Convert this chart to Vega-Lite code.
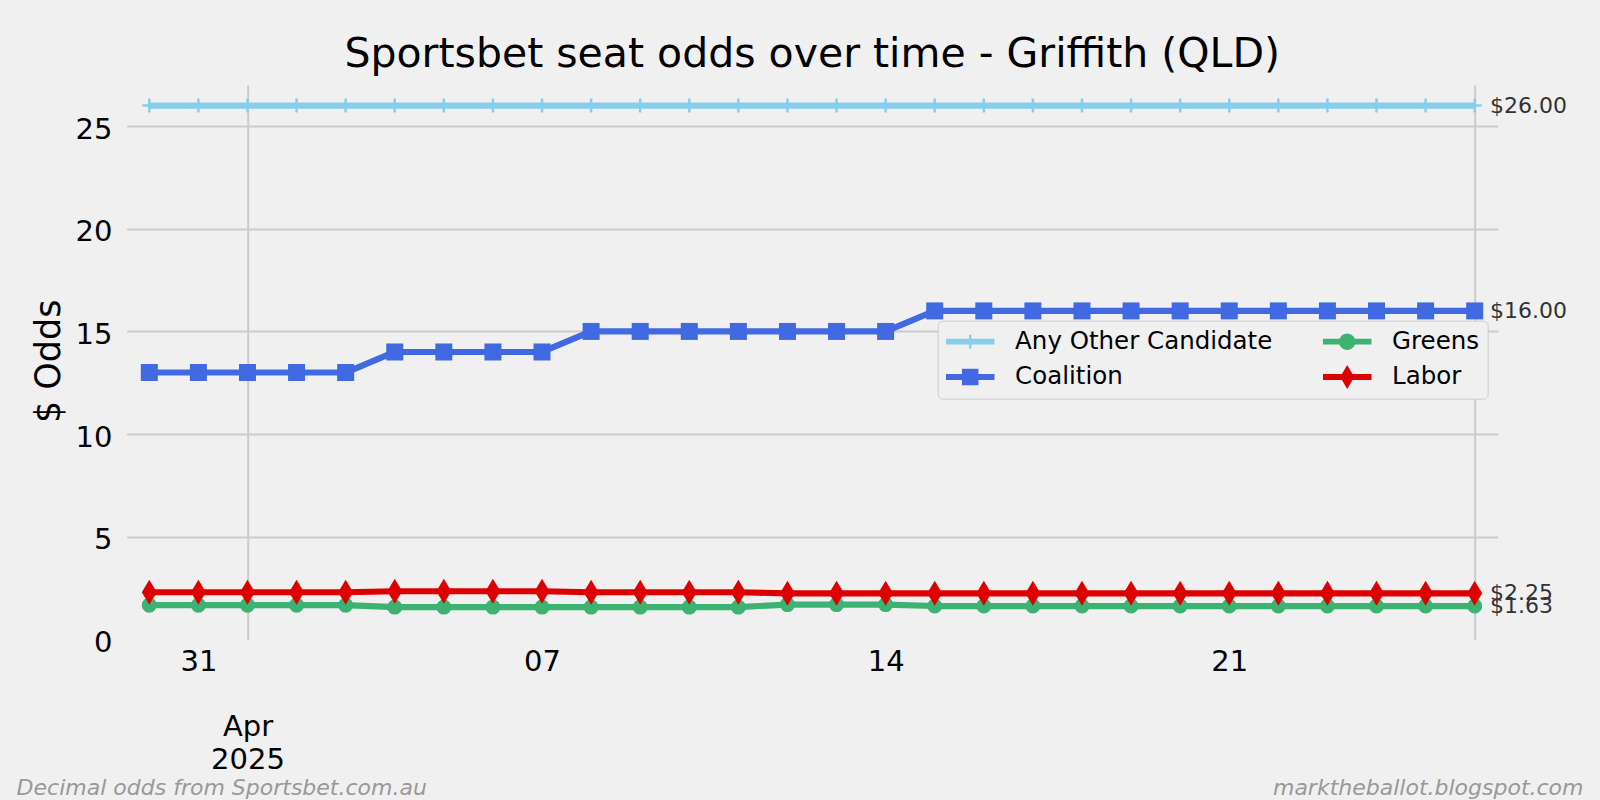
{
  "$schema": "https://vega.github.io/schema/vega-lite/v6.json",
  "width": 1371,
  "height": 554.5,
  "autosize": {"type": "none"},
  "padding": {"left": 126.7, "top": 85, "right": 102.3, "bottom": 160.5},
  "background": "#f0f0f0",
  "title": {
    "text": "Sportsbet seat odds over time - Griffith (QLD)",
    "font": "DejaVu Sans", "fontSize": 41, "fontWeight": "normal", "color": "#000000",
    "anchor": "middle", "frame": "group", "baseline": "alphabetic", "offset": 20, "dy": 42.5
  },
  "config": {"view": {"stroke": null}, "font": "DejaVu Sans"},
  "resolve": {"axis": {"x": "independent", "y": "independent"}},
  "data": {"values": [
    {"date": "2025-03-30", "series": "Any Other Candidate", "odds": 26},
    {"date": "2025-03-31", "series": "Any Other Candidate", "odds": 26},
    {"date": "2025-04-01", "series": "Any Other Candidate", "odds": 26},
    {"date": "2025-04-02", "series": "Any Other Candidate", "odds": 26},
    {"date": "2025-04-03", "series": "Any Other Candidate", "odds": 26},
    {"date": "2025-04-04", "series": "Any Other Candidate", "odds": 26},
    {"date": "2025-04-05", "series": "Any Other Candidate", "odds": 26},
    {"date": "2025-04-06", "series": "Any Other Candidate", "odds": 26},
    {"date": "2025-04-07", "series": "Any Other Candidate", "odds": 26},
    {"date": "2025-04-08", "series": "Any Other Candidate", "odds": 26},
    {"date": "2025-04-09", "series": "Any Other Candidate", "odds": 26},
    {"date": "2025-04-10", "series": "Any Other Candidate", "odds": 26},
    {"date": "2025-04-11", "series": "Any Other Candidate", "odds": 26},
    {"date": "2025-04-12", "series": "Any Other Candidate", "odds": 26},
    {"date": "2025-04-13", "series": "Any Other Candidate", "odds": 26},
    {"date": "2025-04-14", "series": "Any Other Candidate", "odds": 26},
    {"date": "2025-04-15", "series": "Any Other Candidate", "odds": 26},
    {"date": "2025-04-16", "series": "Any Other Candidate", "odds": 26},
    {"date": "2025-04-17", "series": "Any Other Candidate", "odds": 26},
    {"date": "2025-04-18", "series": "Any Other Candidate", "odds": 26},
    {"date": "2025-04-19", "series": "Any Other Candidate", "odds": 26},
    {"date": "2025-04-20", "series": "Any Other Candidate", "odds": 26},
    {"date": "2025-04-21", "series": "Any Other Candidate", "odds": 26},
    {"date": "2025-04-22", "series": "Any Other Candidate", "odds": 26},
    {"date": "2025-04-23", "series": "Any Other Candidate", "odds": 26},
    {"date": "2025-04-24", "series": "Any Other Candidate", "odds": 26},
    {"date": "2025-04-25", "series": "Any Other Candidate", "odds": 26},
    {"date": "2025-04-26", "series": "Any Other Candidate", "odds": 26},
    {"date": "2025-03-30", "series": "Coalition", "odds": 13},
    {"date": "2025-03-31", "series": "Coalition", "odds": 13},
    {"date": "2025-04-01", "series": "Coalition", "odds": 13},
    {"date": "2025-04-02", "series": "Coalition", "odds": 13},
    {"date": "2025-04-03", "series": "Coalition", "odds": 13},
    {"date": "2025-04-04", "series": "Coalition", "odds": 14},
    {"date": "2025-04-05", "series": "Coalition", "odds": 14},
    {"date": "2025-04-06", "series": "Coalition", "odds": 14},
    {"date": "2025-04-07", "series": "Coalition", "odds": 14},
    {"date": "2025-04-08", "series": "Coalition", "odds": 15},
    {"date": "2025-04-09", "series": "Coalition", "odds": 15},
    {"date": "2025-04-10", "series": "Coalition", "odds": 15},
    {"date": "2025-04-11", "series": "Coalition", "odds": 15},
    {"date": "2025-04-12", "series": "Coalition", "odds": 15},
    {"date": "2025-04-13", "series": "Coalition", "odds": 15},
    {"date": "2025-04-14", "series": "Coalition", "odds": 15},
    {"date": "2025-04-15", "series": "Coalition", "odds": 16},
    {"date": "2025-04-16", "series": "Coalition", "odds": 16},
    {"date": "2025-04-17", "series": "Coalition", "odds": 16},
    {"date": "2025-04-18", "series": "Coalition", "odds": 16},
    {"date": "2025-04-19", "series": "Coalition", "odds": 16},
    {"date": "2025-04-20", "series": "Coalition", "odds": 16},
    {"date": "2025-04-21", "series": "Coalition", "odds": 16},
    {"date": "2025-04-22", "series": "Coalition", "odds": 16},
    {"date": "2025-04-23", "series": "Coalition", "odds": 16},
    {"date": "2025-04-24", "series": "Coalition", "odds": 16},
    {"date": "2025-04-25", "series": "Coalition", "odds": 16},
    {"date": "2025-04-26", "series": "Coalition", "odds": 16},
    {"date": "2025-03-30", "series": "Greens", "odds": 1.67},
    {"date": "2025-03-31", "series": "Greens", "odds": 1.67},
    {"date": "2025-04-01", "series": "Greens", "odds": 1.67},
    {"date": "2025-04-02", "series": "Greens", "odds": 1.67},
    {"date": "2025-04-03", "series": "Greens", "odds": 1.67},
    {"date": "2025-04-04", "series": "Greens", "odds": 1.58},
    {"date": "2025-04-05", "series": "Greens", "odds": 1.58},
    {"date": "2025-04-06", "series": "Greens", "odds": 1.58},
    {"date": "2025-04-07", "series": "Greens", "odds": 1.58},
    {"date": "2025-04-08", "series": "Greens", "odds": 1.58},
    {"date": "2025-04-09", "series": "Greens", "odds": 1.58},
    {"date": "2025-04-10", "series": "Greens", "odds": 1.58},
    {"date": "2025-04-11", "series": "Greens", "odds": 1.58},
    {"date": "2025-04-12", "series": "Greens", "odds": 1.7},
    {"date": "2025-04-13", "series": "Greens", "odds": 1.7},
    {"date": "2025-04-14", "series": "Greens", "odds": 1.7},
    {"date": "2025-04-15", "series": "Greens", "odds": 1.63},
    {"date": "2025-04-16", "series": "Greens", "odds": 1.63},
    {"date": "2025-04-17", "series": "Greens", "odds": 1.63},
    {"date": "2025-04-18", "series": "Greens", "odds": 1.63},
    {"date": "2025-04-19", "series": "Greens", "odds": 1.63},
    {"date": "2025-04-20", "series": "Greens", "odds": 1.63},
    {"date": "2025-04-21", "series": "Greens", "odds": 1.63},
    {"date": "2025-04-22", "series": "Greens", "odds": 1.63},
    {"date": "2025-04-23", "series": "Greens", "odds": 1.63},
    {"date": "2025-04-24", "series": "Greens", "odds": 1.63},
    {"date": "2025-04-25", "series": "Greens", "odds": 1.63},
    {"date": "2025-04-26", "series": "Greens", "odds": 1.63},
    {"date": "2025-03-30", "series": "Labor", "odds": 2.3},
    {"date": "2025-03-31", "series": "Labor", "odds": 2.3},
    {"date": "2025-04-01", "series": "Labor", "odds": 2.3},
    {"date": "2025-04-02", "series": "Labor", "odds": 2.3},
    {"date": "2025-04-03", "series": "Labor", "odds": 2.3},
    {"date": "2025-04-04", "series": "Labor", "odds": 2.35},
    {"date": "2025-04-05", "series": "Labor", "odds": 2.35},
    {"date": "2025-04-06", "series": "Labor", "odds": 2.35},
    {"date": "2025-04-07", "series": "Labor", "odds": 2.35},
    {"date": "2025-04-08", "series": "Labor", "odds": 2.3},
    {"date": "2025-04-09", "series": "Labor", "odds": 2.3},
    {"date": "2025-04-10", "series": "Labor", "odds": 2.3},
    {"date": "2025-04-11", "series": "Labor", "odds": 2.3},
    {"date": "2025-04-12", "series": "Labor", "odds": 2.25},
    {"date": "2025-04-13", "series": "Labor", "odds": 2.25},
    {"date": "2025-04-14", "series": "Labor", "odds": 2.25},
    {"date": "2025-04-15", "series": "Labor", "odds": 2.25},
    {"date": "2025-04-16", "series": "Labor", "odds": 2.25},
    {"date": "2025-04-17", "series": "Labor", "odds": 2.25},
    {"date": "2025-04-18", "series": "Labor", "odds": 2.25},
    {"date": "2025-04-19", "series": "Labor", "odds": 2.25},
    {"date": "2025-04-20", "series": "Labor", "odds": 2.25},
    {"date": "2025-04-21", "series": "Labor", "odds": 2.25},
    {"date": "2025-04-22", "series": "Labor", "odds": 2.25},
    {"date": "2025-04-23", "series": "Labor", "odds": 2.25},
    {"date": "2025-04-24", "series": "Labor", "odds": 2.25},
    {"date": "2025-04-25", "series": "Labor", "odds": 2.25},
    {"date": "2025-04-26", "series": "Labor", "odds": 2.25}
  ]},
  "layer": [
    {
      "mark": {"type": "point", "filled": true, "opacity": 0},
      "encoding": {
        "x": {
          "field": "date", "type": "temporal",
          "scale": {"type": "utc", "nice": false, "domain": [
            {"year": 2025, "month": 3, "date": 29, "hours": 12, "minutes": 57, "utc": true},
            {"year": 2025, "month": 4, "date": 26, "hours": 11, "minutes": 15, "utc": true}
          ]},
          "axis": {
            "orient": "bottom",
            "values": [
              {"year": 2025, "month": 4, "date": 1, "utc": true},
              {"year": 2025, "month": 4, "date": 26, "utc": true}
            ],
            "labelExpr": "utcdate(datum.value) == 1 ? 'Apr' : ''",
            "grid": true, "gridColor": "#cbcbcb", "gridWidth": 2,
            "ticks": false, "tickSize": 0, "domain": false,
            "labelFont": "DejaVu Sans", "labelFontSize": 29, "labelColor": "#000000",
            "labelBaseline": "top", "labelPadding": 72.5,
            "labelOverlap": false, "labelFlush": false, "labelBound": false,
            "title": "marktheballot.blogspot.com",
            "titleFont": "DejaVu Sans", "titleFontSize": 22, "titleFontWeight": "normal",
            "titleFontStyle": "italic", "titleColor": "#999999",
            "titleAlign": "right", "titleAnchor": "end", "titleBaseline": "alphabetic",
            "titleX": 1456.3, "titleY": 154.5
          }
        },
        "y": {
          "field": "odds", "type": "quantitative",
          "scale": {"domain": [0, 27], "nice": false, "zero": true},
          "axis": {
            "orient": "left",
            "values": [5, 10, 15, 20, 25],
            "grid": true, "gridColor": "#cbcbcb", "gridWidth": 2,
            "labels": false, "ticks": false, "tickSize": 0, "domain": false,
            "title": null
          }
        },
        "color": {
          "field": "series", "type": "nominal",
          "scale": {
            "domain": ["Any Other Candidate", "Coalition", "Greens", "Labor"],
            "range": ["#87ceeb", "#4169e1", "#3cb371", "#dd0000"]
          },
          "legend": {
            "title": null, "orient": "none", "legendX": 811, "legendY": 235.7,
            "columns": 2, "symbolSize": 2362, "symbolStrokeWidth": 0, "symbolOpacity": 1,
            "clipHeight": 26,
            "labelFont": "DejaVu Sans", "labelFontSize": 24.5, "labelColor": "#000000",
            "labelOffset": 20.4, "columnPadding": 50, "rowPadding": 9.3, "padding": 8,
            "strokeColor": "#cccccc", "fillColor": "#f0f0f0", "cornerRadius": 5,
            "labelLimit": 500
          }
        },
        "shape": {
          "field": "series", "type": "nominal",
          "scale": {
            "domain": ["Any Other Candidate", "Coalition", "Greens", "Labor"],
            "range": [
              "M-1,-0.12H1V0.12H-1Z M-0.05,-0.29H0.05V0.29H-0.05Z",
              "M-1,-0.12H1V0.12H-1Z M-0.34,-0.34H0.34V0.34H-0.34Z",
              "M-1,-0.12H1V0.12H-1Z M0.34,0A0.34,0.34 0 1,1 -0.34,0A0.34,0.34 0 1,1 0.34,0Z",
              "M-1,-0.12H1V0.12H-1Z M0,-0.49L0.29,0L0,0.49L-0.29,0Z"
            ]
          },
          "legend": {
            "title": null, "orient": "none", "legendX": 811, "legendY": 235.7,
            "columns": 2, "symbolSize": 2362, "symbolStrokeWidth": 0, "symbolOpacity": 1,
            "clipHeight": 26,
            "labelFont": "DejaVu Sans", "labelFontSize": 24.5, "labelColor": "#000000",
            "labelOffset": 20.4, "columnPadding": 50, "rowPadding": 9.3, "padding": 8,
            "strokeColor": "#cccccc", "fillColor": "#f0f0f0", "cornerRadius": 5,
            "labelLimit": 500
          }
        }
      }
    },
    {
      "mark": {"type": "line", "strokeWidth": 6.2, "strokeJoin": "round", "strokeCap": "butt"},
      "encoding": {
        "x": {
          "field": "date", "type": "temporal",
          "axis": {
            "orient": "bottom",
            "values": [
              {"year": 2025, "month": 3, "date": 31, "utc": true},
              {"year": 2025, "month": 4, "date": 7, "utc": true},
              {"year": 2025, "month": 4, "date": 14, "utc": true},
              {"year": 2025, "month": 4, "date": 21, "utc": true}
            ],
            "labelExpr": "utcFormat(datum.value, '%d')",
            "grid": false, "ticks": false, "tickSize": 0, "domain": false,
            "labelFont": "DejaVu Sans", "labelFontSize": 29, "labelColor": "#000000",
            "labelBaseline": "top", "labelPadding": 7.6,
            "labelOverlap": false, "labelFlush": false, "labelBound": false,
            "title": "Decimal odds from Sportsbet.com.au",
            "titleFont": "DejaVu Sans", "titleFontSize": 22, "titleFontWeight": "normal",
            "titleFontStyle": "italic", "titleColor": "#999999",
            "titleAlign": "left", "titleAnchor": "start", "titleBaseline": "alphabetic",
            "titleX": -110.6, "titleY": 154.5
          }
        },
        "y": {
          "field": "odds", "type": "quantitative",
          "axis": {
            "orient": "left",
            "values": [0, 5, 10, 15, 20, 25],
            "grid": false, "ticks": false, "tickSize": 0, "domain": false,
            "labelFont": "DejaVu Sans", "labelFontSize": 29, "labelColor": "#000000",
            "labelPadding": 14.7, "labelOffset": 3,
            "title": "$ Odds", "titleFont": "DejaVu Sans", "titleFontSize": 35,
            "titleFontWeight": "normal", "titleColor": "#000000",
            "titleAngle": -90, "titleBaseline": "alphabetic", "titleAlign": "center",
            "titleX": -67.4, "titleY": 275.8
          }
        },
        "color": {
          "field": "series", "type": "nominal",
          "scale": {
            "domain": ["Any Other Candidate", "Coalition", "Greens", "Labor"],
            "range": ["#87ceeb", "#4169e1", "#3cb371", "#dd0000"]
          },
          "legend": null
        }
      }
    },
    {
      "transform": [{"filter": "datum.series == 'Any Other Candidate'"}],
      "mark": {"type": "point", "shape": "M-1,0H1M0,-1V1", "size": 196, "filled": false, "stroke": "#87ceeb", "strokeWidth": 2.5, "opacity": 1},
      "encoding": {
        "x": {"field": "date", "type": "temporal", "axis": null},
        "y": {"field": "odds", "type": "quantitative", "axis": null}
      }
    },
    {
      "transform": [{"filter": "datum.series == 'Coalition'"}],
      "mark": {"type": "point", "shape": "square", "size": 289, "filled": true, "color": "#4169e1", "opacity": 1},
      "encoding": {
        "x": {"field": "date", "type": "temporal", "axis": null},
        "y": {"field": "odds", "type": "quantitative", "axis": null}
      }
    },
    {
      "transform": [{"filter": "datum.series == 'Greens'"}],
      "mark": {"type": "point", "shape": "circle", "size": 227, "filled": true, "color": "#3cb371", "opacity": 1},
      "encoding": {
        "x": {"field": "date", "type": "temporal", "axis": null},
        "y": {"field": "odds", "type": "quantitative", "axis": null}
      }
    },
    {
      "transform": [{"filter": "datum.series == 'Labor'"}],
      "mark": {"type": "point", "shape": "M0,-1L0.6,0L0,1L-0.6,0Z", "size": 625, "filled": true, "color": "#dd0000", "opacity": 1},
      "encoding": {
        "x": {"field": "date", "type": "temporal", "axis": null},
        "y": {"field": "odds", "type": "quantitative", "axis": null}
      }
    },
    {
      "transform": [{"filter": {"field": "date", "equal": {"year": 2025, "month": 4, "date": 26, "utc": true}}}],
      "mark": {"type": "text", "align": "left", "baseline": "middle", "dx": 15.3, "font": "DejaVu Sans", "fontSize": 22, "color": "#333333"},
      "encoding": {
        "x": {
          "field": "date", "type": "temporal",
          "axis": {
            "orient": "bottom",
            "values": [{"year": 2025, "month": 4, "date": 1, "utc": true}],
            "labelExpr": "'2025'",
            "grid": false, "ticks": false, "tickSize": 0, "domain": false,
            "labelFont": "DejaVu Sans", "labelFontSize": 29, "labelColor": "#000000",
            "labelBaseline": "top", "labelPadding": 105.8,
            "labelOverlap": false, "labelFlush": false, "labelBound": false,
            "title": null
          }
        },
        "y": {"field": "odds", "type": "quantitative", "axis": null},
        "text": {"field": "odds", "type": "quantitative", "format": "$.2f"}
      }
    }
  ]
}
